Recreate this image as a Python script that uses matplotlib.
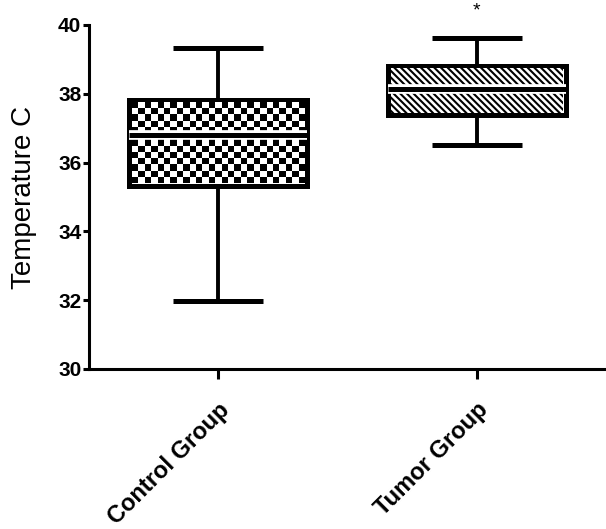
import numpy as np
import matplotlib
matplotlib.use('Agg')
import matplotlib.pyplot as plt
from matplotlib.patches import Rectangle

# box plot summary values
groups = ['Control Group', 'Tumor Group']
whis_low = [31.98, 36.52]
q1 = [35.33, 37.37]
median = [36.80, 38.15]
q3 = [37.83, 38.82]
whis_high = [39.32, 39.63]
yticks = [30, 32, 34, 36, 38, 40]

plt.rcParams['font.family'] = ['Liberation Sans', 'DejaVu Sans']
plt.rcParams['hatch.linewidth'] = 1.5

fig = plt.figure(figsize=(6.06, 5.29), dpi=100)
ax = fig.add_axes([89/606, 1 - 369/529, 1 - 89/606, (369 - 25)/529])

stats = []
for i in range(len(groups)):
    stats.append(dict(label=groups[i], whislo=whis_low[i], q1=q1[i], med=median[i],
                      q3=q3[i], whishi=whis_high[i], fliers=[]))

pos = [1, 2]
bw = 0.69
res = ax.bxp(stats, positions=pos, widths=bw, capwidths=0.35, patch_artist=True,
             showfliers=False,
             boxprops=dict(facecolor='white', edgecolor='black', linewidth=3.6),
             whiskerprops=dict(color='black', linewidth=2.8),
             capprops=dict(color='black', linewidth=3.6),
             medianprops=dict(color='black', linewidth=3.6))
for b in res['boxes']:
    b.set_zorder(2)
for k in ['whiskers', 'caps', 'medians']:
    for l in res[k]:
        l.set_zorder(4)
        l.set_solid_capstyle('butt')

# checkerboard fill for the control box
sq_x = 0.026
sq_y = 0.195
nx = int(round(bw / sq_x))
ny = int(round((q3[0] - q1[0]) / sq_y))
checker = (np.add.outer(np.arange(ny), np.arange(nx)) % 2).astype(float)
pad_x = 0.012
pad_y = 0.08
img = ax.imshow(checker, cmap='gray', interpolation='nearest', aspect='auto',
                extent=[pos[0] - bw/2 + pad_x, pos[0] + bw/2 - pad_x, q1[0] + pad_y, q3[0] - pad_y],
                zorder=3)
# white gap round the median line
ax.plot([pos[0] - bw/2, pos[0] + bw/2], [median[0], median[0]], color='white', lw=7, zorder=3.5,
        solid_capstyle='butt')

# diagonal hatch for the tumor box
hb = Rectangle((pos[1] - bw/2 + pad_x, q1[1] + pad_y), bw - 2*pad_x, q3[1] - q1[1] - 2*pad_y,
               facecolor='white', edgecolor='black', linewidth=0, hatch='\\\\\\\\\\', zorder=3)
ax.add_patch(hb)
ax.plot([pos[1] - bw/2, pos[1] + bw/2], [median[1], median[1]], color='white', lw=7, zorder=3.5,
        solid_capstyle='butt')

ax.set_xlim(0.5, 2.5)
ax.set_ylim(30, 40)
ax.set_yticks(yticks)
ax.set_yticklabels([str(t) for t in yticks], fontsize=15, fontweight='bold')
ax.set_xticks(pos)
ax.set_xticklabels(groups, fontsize=17, fontweight='bold', rotation=45, ha='right',
                   rotation_mode='anchor')
ax.set_ylabel('Temperature C', fontsize=20, labelpad=15)

for s in ['top', 'right']:
    ax.spines[s].set_visible(False)
for s in ['left', 'bottom']:
    ax.spines[s].set_linewidth(2.2)
ax.tick_params(axis='y', length=4.5, width=2.2, pad=1)
ax.tick_params(axis='x', length=7, width=2.2, pad=14)

ax.text(pos[1], 40.15, '*', ha='center', va='bottom', fontsize=14, clip_on=False)

fig.savefig('out.png', dpi=100)
